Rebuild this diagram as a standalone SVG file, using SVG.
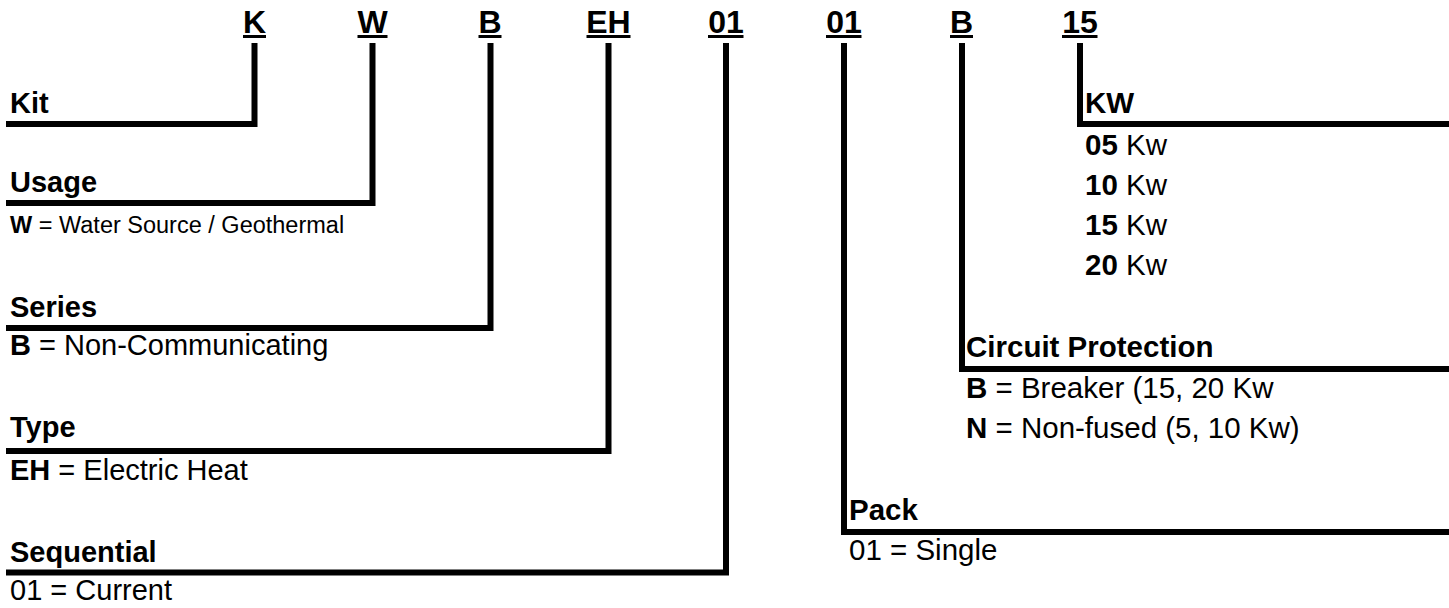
<svg xmlns="http://www.w3.org/2000/svg" width="1449" height="608" viewBox="0 0 1449 608">
<style>
text{font-family:"Liberation Sans",Arial,sans-serif;fill:#000;font-size:29px}
.b{font-weight:bold}
.hdr{font-weight:bold;font-size:32px;text-anchor:middle}
.sm{font-size:23.5px}
.r{font-size:29.5px}
.ul{fill:#000}
.conn{fill:none;stroke:#000;stroke-width:6;stroke-linejoin:miter;stroke-linecap:butt}
</style>
<rect width="1449" height="608" fill="#fff"/>
<g id="header">
<text class="hdr" x="254.5" y="33">K</text><rect class="ul" x="243" y="35" width="23" height="3"/>
<text class="hdr" x="372.5" y="33">W</text><rect class="ul" x="357.5" y="35" width="30" height="3"/>
<text class="hdr" x="490" y="33">B</text><rect class="ul" x="478.5" y="35" width="23" height="3"/>
<text class="hdr" x="608.5" y="33">EH</text><rect class="ul" x="586.5" y="35" width="44" height="3"/>
<text class="hdr" x="726" y="33">01</text><rect class="ul" x="708" y="35" width="35.5" height="3"/>
<text class="hdr" x="844" y="33">01</text><rect class="ul" x="826" y="35" width="35.5" height="3"/>
<text class="hdr" x="961.5" y="33">B</text><rect class="ul" x="950" y="35" width="23" height="3"/>
<text class="hdr" x="1080" y="33">15</text><rect class="ul" x="1062" y="35" width="35.5" height="3"/>
</g>
<g id="connectors">
<path class="conn" d="M254.5,43 V124 H6"/>
<path class="conn" d="M372.5,43 V203 H6"/>
<path class="conn" d="M490.5,43 V328 H6"/>
<path class="conn" d="M608.5,43 V451 H6"/>
<path class="conn" d="M726,43 V572.5 H6"/>
<path class="conn" d="M844,43 V532 H1449"/>
<path class="conn" d="M962,43 V369 H1449"/>
<path class="conn" d="M1080,43 V124 H1449"/>
</g>
<g id="kit"><text class="b" x="10" y="113">Kit</text></g>
<g id="usage"><text class="b" x="10" y="192">Usage</text>
<text class="sm" x="10" y="233"><tspan class="b">W</tspan> = Water Source / Geothermal</text></g>
<g id="series"><text class="b" x="10" y="317">Series</text>
<text x="10" y="355"><tspan class="b">B</tspan> = Non-Communicating</text></g>
<g id="type"><text class="b" x="10" y="437">Type</text>
<text x="10" y="480"><tspan class="b">EH</tspan> = Electric Heat</text></g>
<g id="sequential"><text class="b" x="10" y="562">Sequential</text>
<text x="10" y="600">01 = Current</text></g>
<g id="kw"><text class="b r" x="1085" y="113">KW</text>
<text class="r" x="1085" y="155"><tspan class="b">05</tspan> Kw</text>
<text class="r" x="1085" y="195"><tspan class="b">10</tspan> Kw</text>
<text class="r" x="1085" y="235"><tspan class="b">15</tspan> Kw</text>
<text class="r" x="1085" y="275"><tspan class="b">20</tspan> Kw</text></g>
<g id="circuit"><text class="b r" x="966" y="357">Circuit Protection</text>
<text class="r" x="966" y="398"><tspan class="b">B</tspan> = Breaker (15, 20 Kw</text>
<text class="r" x="966" y="438"><tspan class="b">N</tspan> = Non-fused (5, 10 Kw)</text></g>
<g id="pack"><text class="b r" x="849" y="520">Pack</text>
<text class="r" x="849" y="560">01 = Single</text></g>
</svg>
